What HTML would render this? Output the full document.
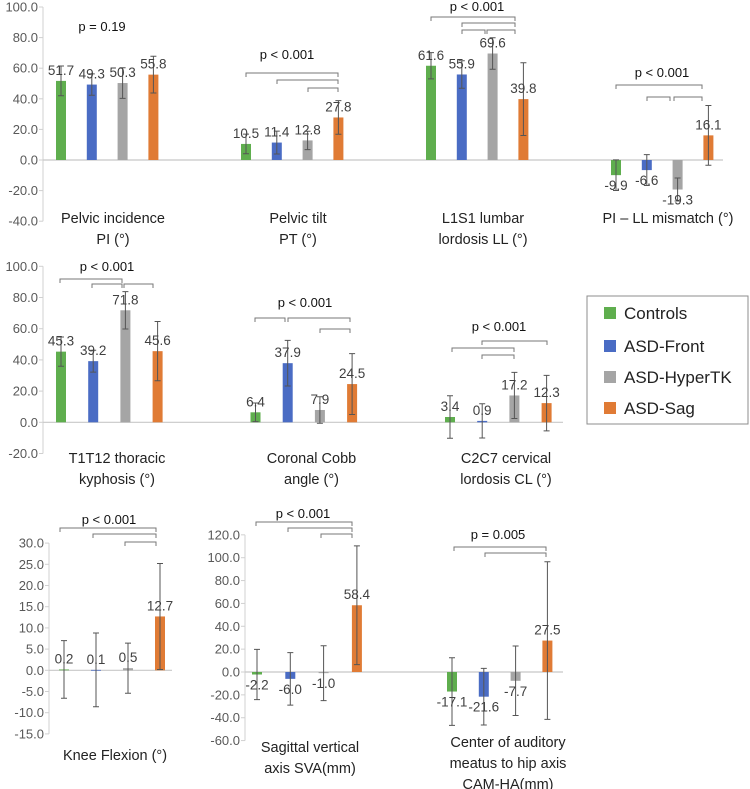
<!DOCTYPE html>
<html><head><meta charset="utf-8"><style>
body{margin:0;background:#fff;width:750px;height:789px;overflow:hidden}
svg{display:block;font-family:"Liberation Sans",Arial,sans-serif}
</style></head><body>
<svg id="chart" width="750" height="789" viewBox="0 0 750 789" xmlns="http://www.w3.org/2000/svg">
<g id="legend">
<rect x="587" y="296" width="161" height="128" fill="#fff" stroke="#8c8c8c" stroke-width="1"/>
<g><rect x="604" y="307" width="12" height="12" fill="#5fae4e"/><text x="624" y="319" font-size="17" fill="#222">Controls</text></g>
<g><rect x="604" y="340" width="12" height="12" fill="#4a6cc4"/><text x="624" y="352" font-size="17" fill="#222">ASD-Front</text></g>
<g><rect x="604" y="371" width="12" height="12" fill="#a5a5a5"/><text x="624" y="383" font-size="17" fill="#222">ASD-HyperTK</text></g>
<g><rect x="604" y="402" width="12" height="12" fill="#e07b35"/><text x="624" y="414" font-size="17" fill="#222">ASD-Sag</text></g>
</g>
</svg>
<script>
// ---- data ----
const seriesNames = ["Controls","ASD-Front","ASD-HyperTK","ASD-Sag"];
const seriesColors = ["#5fae4e","#4a6cc4","#a5a5a5","#e07b35"];

const topCategories = [["Pelvic incidence","PI (°)"],["Pelvic tilt","PT (°)"],["L1S1 lumbar","lordosis LL (°)"],["PI – LL mismatch (°)"]];
const topControls = [51.7,10.5,61.6,-9.9];
const topFront = [49.3,11.4,55.9,-6.6];
const topHyper = [50.3,12.8,69.6,-19.3];
const topSag = [55.8,27.8,39.8,16.1];
const topSdControls = [9.7,6.4,8.6,10];
const topSdFront = [7,7.5,9,10.1];
const topSdHyper = [10,6,10.3,7.5];
const topSdSag = [12,11,23.8,19.5];
const topTicks = [100,80,60,40,20,0,-20,-40];

const midCategories = [["T1T12 thoracic","kyphosis (°)"],["Coronal Cobb","angle (°)"],["C2C7 cervical","lordosis CL (°)"]];
const midControls = [45.3,6.4,3.4];
const midFront = [39.2,37.9,0.9];
const midHyper = [71.8,7.9,17.2];
const midSag = [45.6,24.5,12.3];
const midSdControls = [9.4,6,13.6];
const midSdFront = [7,14.6,11];
const midSdHyper = [12,8.5,14.8];
const midSdSag = [19,19.5,17.8];
const midTicks = [100,80,60,40,20,0,-20];

const kneeCategories = [["Knee Flexion (°)"]];
const kneeValues = [0.2,0.1,0.5,12.7];
const kneeSd = [6.8,8.7,5.9,12.5];
const kneeTicks = [30,25,20,15,10,5,0,-5,-10,-15];

const mmCategories = [["Sagittal vertical","axis SVA(mm)"],["Center of auditory","meatus to hip axis","CAM-HA(mm)"]];
const mmControls = [-2.2,-17.1];
const mmFront = [-6.0,-21.6];
const mmHyper = [-1.0,-7.7];
const mmSag = [58.4,27.5];
const mmSdControls = [22,29.6];
const mmSdFront = [23,24.8];
const mmSdHyper = [24,30.4];
const mmSdSag = [52,69];
const mmTicks = [120,100,80,60,40,20,0,-20,-40,-60];

// ---- drawing ----
const svg = document.getElementById('chart');
const NS = "http://www.w3.org/2000/svg";
function mk(tag, attrs, parent){
  const e = document.createElementNS(NS, tag);
  for (const k in attrs) e.setAttribute(k, attrs[k]);
  (parent||svg).appendChild(e);
  return e;
}
function fmt(v){ return v.toFixed(1); }

function drawAxis(name, ax){
  const g = mk('g', {});
  
  
  mk('line',{x1:ax.x,x2:ax.x,y1:ax.y(ax.ticks[0]),y2:ax.y(ax.ticks[ax.ticks.length-1]),stroke:'#d0d0d0','stroke-width':1},g);
  ax.ticks.forEach(t=>{
    const yy = ax.y(t);
    mk('line',{x1:ax.x-4,x2:ax.x,y1:yy,y2:yy,stroke:'#d0d0d0','stroke-width':1},g);
    const tx = mk('text',{x:ax.x-5,y:yy+4.5,'font-size':13,fill:'#595959','text-anchor':'end'},g);
    
    
    tx.textContent = fmt(t);
  });
  mk('line',{x1:ax.x,x2:ax.zeroEnd,y1:ax.y(0),y2:ax.y(0),stroke:'#c8c8c8','stroke-width':1.2},g);
}

function drawBars(name, ax, seriesVals, seriesSd, gi, barX){
  const g = mk('g', {});
  
  
  for (let s=0;s<4;s++){
    const v = seriesVals[s], sd = seriesSd[s];
    const x = barX(gi, s), w = 10;
    const y0 = ax.y(0), y1 = ax.y(v);
    const r = mk('rect',{x:x,y:Math.min(y0,y1),width:w,height:Math.max(Math.abs(y0-y1),0.8),fill:seriesColors[s]},g);
    
    
    const cx = x + w/2, ya = ax.y(v+sd), yb = ax.y(v-sd);
    const eb = mk('path',{d:`M${cx},${ya}V${yb}M${cx-3},${ya}H${cx+3}M${cx-3},${yb}H${cx+3}`,stroke:'#555','stroke-width':1,fill:'none'},g);
    
    
    const ty = v >= 0 ? y1 - 6 : y1 + 15;
    const t = mk('text',{x:cx,y:ty,'font-size':13.5,fill:'#404040','text-anchor':'middle'},g);
    
    
    t.textContent = fmt(v);
  }
}

function drawCatLabel(lines, cx, y0){
  const t = mk('text',{x:cx,y:y0,'font-size':14.5,fill:'#222','text-anchor':'middle'});
  
  
  lines.forEach((l,i)=>{
    const ts = mk('tspan',{x:cx,dy:i?21:0},t);
    ts.textContent = l;
  });
}

function bracket(x1,x2,y){
  const p = mk('path',{d:`M${x1},${y+4}V${y}H${x2}V${y+4}`,stroke:'#777','stroke-width':1,fill:'none'});
  
  
}
function ptext(s,x,y){
  const t = mk('text',{x:x,y:y,'font-size':13,fill:'#111','text-anchor':'middle'});
  
  
  t.textContent = s;
}

// Top panel
const topAx = {x:43, zeroEnd:723, ticks:topTicks, y:v=>160 - v*1.53};
drawAxis('top-y-axis', topAx);
const topBarX = (g,s)=>56 + g*185 + s*30.8;
topCategories.forEach((c,gi)=>{
  drawBars('group-'+gi, topAx, [topControls[gi],topFront[gi],topHyper[gi],topSag[gi]], [topSdControls[gi],topSdFront[gi],topSdHyper[gi],topSdSag[gi]], gi, topBarX);
  const cx = topBarX(gi,0) + 51 + 6;
  drawCatLabel(c, cx, 223);
});

// Middle panel
const midAx = {x:43, zeroEnd:563, ticks:midTicks, y:v=>422.3 - v*1.56};
drawAxis('middle-y-axis', midAx);
const midBarX = (g,s)=>56 + g*194.5 + s*32.2;
midCategories.forEach((c,gi)=>{
  drawBars('mid-group-'+gi, midAx, [midControls[gi],midFront[gi],midHyper[gi],midSag[gi]], [midSdControls[gi],midSdFront[gi],midSdHyper[gi],midSdSag[gi]], gi, midBarX);
  drawCatLabel(c, midBarX(gi,0)+53+8, 463);
});

// Knee panel
const kneeAx = {x:49, zeroEnd:172, ticks:kneeTicks, y:v=>670.3 - v*4.24};
drawAxis('knee-y-axis', kneeAx);
const kneeBarX = (g,s)=>59 + s*32;
drawBars('knee-group', kneeAx, kneeValues, kneeSd, 0, kneeBarX);
drawCatLabel(kneeCategories[0], 115, 760);

// SVA / CAM panel
const mmAx = {x:245, zeroEnd:563, ticks:mmTicks, y:v=>672 - v*1.143};
drawAxis('mm-y-axis', mmAx);
const mmBarX = (g,s)=>252 + g*195 + s*(g? 31.8 : 33.3);
mmCategories.forEach((c,gi)=>{
  drawBars('mm-group-'+gi, mmAx, [mmControls[gi],mmFront[gi],mmHyper[gi],mmSag[gi]], [mmSdControls[gi],mmSdFront[gi],mmSdHyper[gi],mmSdSag[gi]], gi, mmBarX);
});
drawCatLabel(mmCategories[0], 310, 752);
drawCatLabel(mmCategories[1], 508, 747);

// significance annotations
ptext('p = 0.19', 102, 31);
ptext('p < 0.001', 287, 59);
bracket(246,338,73); bracket(277,338,80); bracket(308,338,88);
ptext('p < 0.001', 477, 11);
bracket(431,515,17); bracket(462,515,23); bracket(462,485,30); bracket(487,515,30);
ptext('p < 0.001', 662, 77);
bracket(616,702,85); bracket(647,670,97); bracket(674,702,97);
ptext('p < 0.001', 107, 271);
bracket(60,122,279); bracket(92,122,284); bracket(124,153,284);
ptext('p < 0.001', 305, 307);
bracket(255,285,318); bracket(288,350,318); bracket(320,350,329);
ptext('p < 0.001', 499, 331);
bracket(482,547,341); bracket(452,514,348); bracket(482,514,355);
ptext('p < 0.001', 109, 524);
bracket(60,156,528); bracket(93,156,534); bracket(125,156,542);
ptext('p < 0.001', 303, 518);
bracket(256,352,522); bracket(288,352,528); bracket(321,352,534);
ptext('p = 0.005', 498, 539);
bracket(454,546,547); bracket(485,546,553);

// bring legend to front
svg.appendChild(document.getElementById('legend'));
</script>
</body></html>
